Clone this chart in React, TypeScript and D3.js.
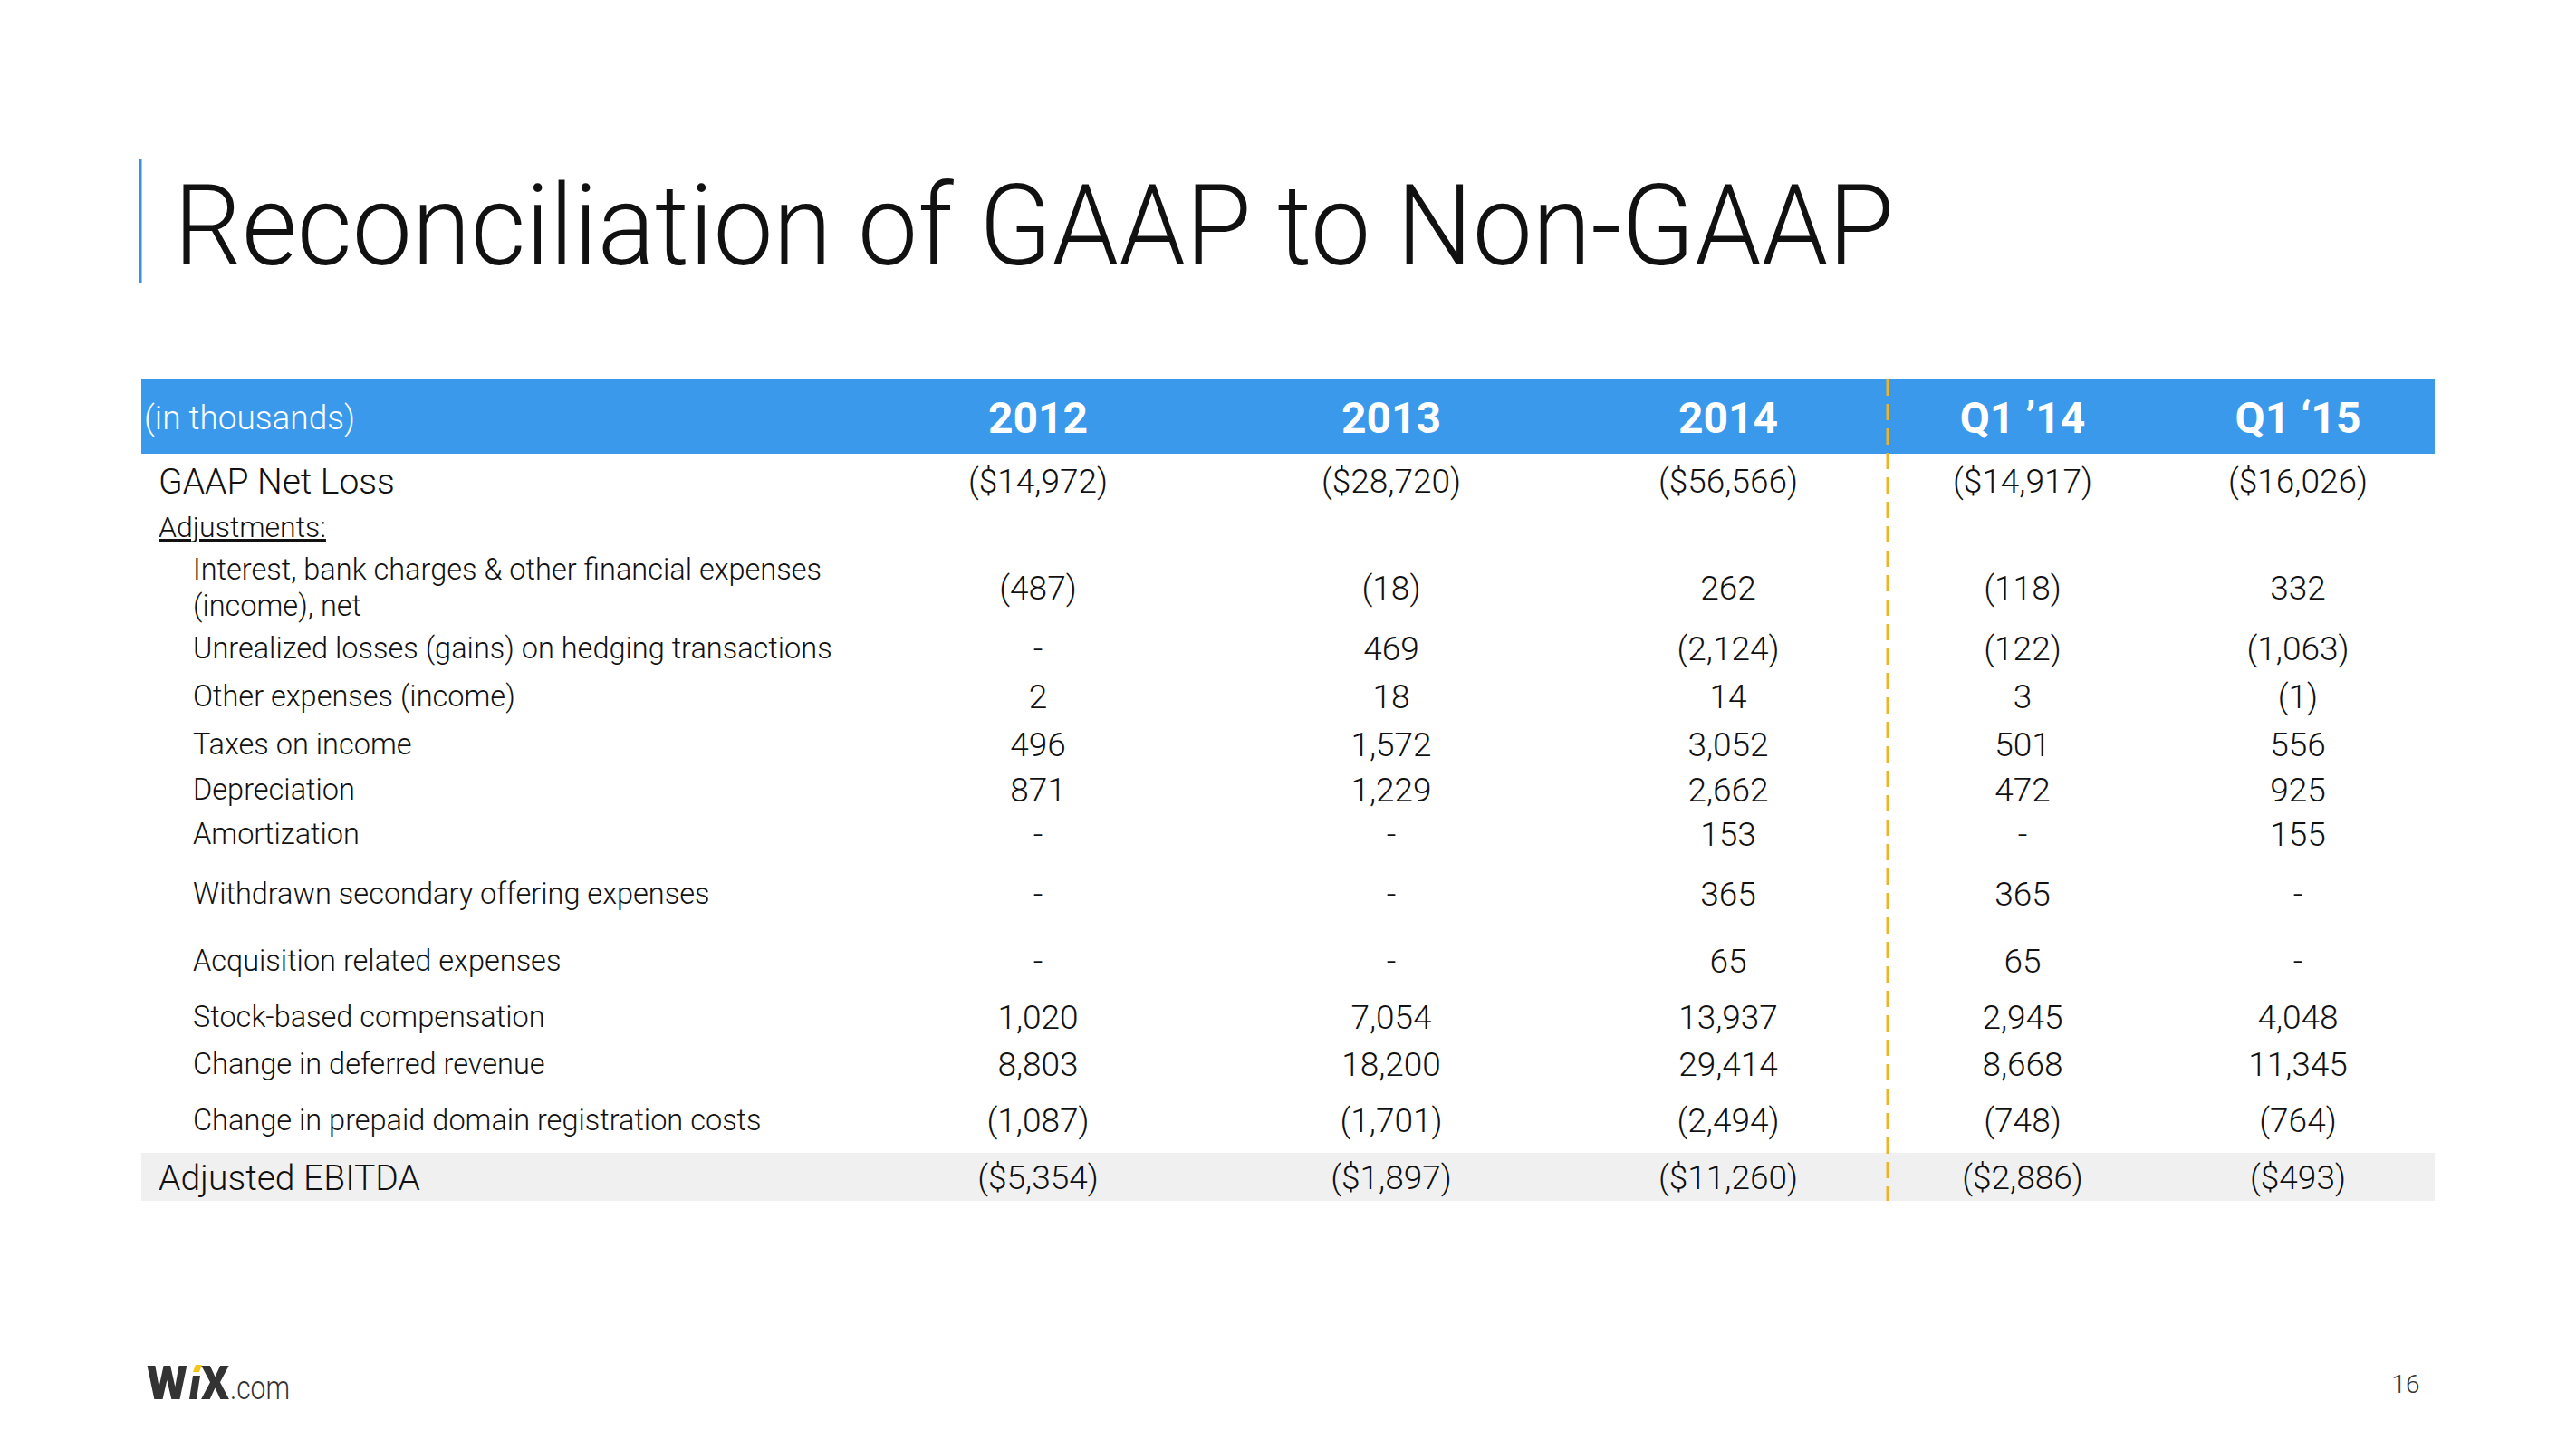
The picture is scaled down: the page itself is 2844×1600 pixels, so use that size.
import React from "react";
import * as d3 from "d3";

const columns = ["2012", "2013", "2014", "Q1 ’14", "Q1 ‘15"];
const columnCenters = [1146, 1536, 1908, 2233, 2537];

const gaapNetLoss = [-14972, -28720, -56566, -14917, -16026];
const interest = [-487, -18, 262, -118, 332];
const unrealized = [null, 469, -2124, -122, -1063];
const otherExpenses = [2, 18, 14, 3, -1];
const taxes = [496, 1572, 3052, 501, 556];
const depreciation = [871, 1229, 2662, 472, 925];
const amortization = [null, null, 153, null, 155];
const withdrawn = [null, null, 365, 365, null];
const acquisition = [null, null, 65, 65, null];
const stockComp = [1020, 7054, 13937, 2945, 4048];
const deferredRevenue = [8803, 18200, 29414, 8668, 11345];
const prepaidDomain = [-1087, -1701, -2494, -748, -764];
const adjustedEbitda = [-5354, -1897, -11260, -2886, -493];

type Row = { key: string; label: string[]; values: (number | null)[]; kind: "main" | "sub"; dollar: boolean };

const rows: Row[] = [
  { key: "gaap", label: ["GAAP Net Loss"], values: gaapNetLoss, kind: "main", dollar: true },
  { key: "interest", label: ["Interest, bank charges & other financial expenses", "(income), net"], values: interest, kind: "sub", dollar: false },
  { key: "unrealized", label: ["Unrealized losses (gains) on hedging transactions"], values: unrealized, kind: "sub", dollar: false },
  { key: "other", label: ["Other expenses (income)"], values: otherExpenses, kind: "sub", dollar: false },
  { key: "taxes", label: ["Taxes on income"], values: taxes, kind: "sub", dollar: false },
  { key: "dep", label: ["Depreciation"], values: depreciation, kind: "sub", dollar: false },
  { key: "amort", label: ["Amortization"], values: amortization, kind: "sub", dollar: false },
  { key: "withdrawn", label: ["Withdrawn secondary offering expenses"], values: withdrawn, kind: "sub", dollar: false },
  { key: "acq", label: ["Acquisition related expenses"], values: acquisition, kind: "sub", dollar: false },
  { key: "sbc", label: ["Stock-based compensation"], values: stockComp, kind: "sub", dollar: false },
  { key: "deferred", label: ["Change in deferred revenue"], values: deferredRevenue, kind: "sub", dollar: false },
  { key: "prepaid", label: ["Change in prepaid domain registration costs"], values: prepaidDomain, kind: "sub", dollar: false },
  { key: "ebitda", label: ["Adjusted EBITDA"], values: adjustedEbitda, kind: "main", dollar: true },
];
const rowCenters = [531, 649, 716, 769, 822, 872, 921, 987, 1061, 1123, 1175, 1237, 1300];

const FONT = "'Helvetica Neue', Roboto, 'Liberation Sans', sans-serif";
const BLUE = "#3a99ea";
const GOLD = "#f0b323";

const fmt = d3.format(",");
function formatValue(v: number | null, dollar: boolean) {
  if (v === null) return "-";
  const s = (dollar ? "$" : "") + fmt(Math.abs(v));
  return v < 0 ? `(${s})` : s;
}

export default function App() {
  const x = d3.scaleOrdinal<string, number>().domain(columns).range(columnCenters);
  const y = d3.scaleOrdinal<string, number>().domain(rows.map((r) => r.key)).range(rowCenters);

  const tableLeft = 156;
  const tableRight = 2688;
  const headerTop = 419;
  const headerBottom = 501;
  const valueSize = 37;
  const mainSize = 39;
  const subSize = 32.5;

  return (
    <svg width={2844} height={1600} style={{ position: "absolute", left: 0, top: 0, background: "#fff" }} fontFamily={FONT}>
      <rect x={0} y={0} width={2844} height={1600} fill="#fff" />
      {/* title */}
      <line x1={155} x2={155} y1={176} y2={312} stroke="#3a8fe0" strokeWidth={3} />
      <text x={192} y={292} fontSize={124} fontWeight={300} fill="#111" textLength={1899} lengthAdjust="spacingAndGlyphs">
        Reconciliation of GAAP to Non-GAAP
      </text>

      {/* header band */}
      <rect x={tableLeft} y={headerTop} width={tableRight - tableLeft} height={headerBottom - headerTop} fill={BLUE} />
      <text x={159} y={461 + 13} fontSize={37} fontWeight={300} fill="#fff">(in thousands)</text>
      {columns.map((c) => (
        <text key={c} x={x(c)} y={461 + 17} fontSize={48} fontWeight={700} fill="#fff" textAnchor="middle">
          {c}
        </text>
      ))}

      {/* EBITDA band */}
      <rect x={tableLeft} y={1273} width={tableRight - tableLeft} height={53} fill="#f0f0f0" />

      {/* Adjustments label */}
      <text x={175} y={582 + 11} fontSize={32} fontWeight={300} fill="#111" textDecoration="underline">Adjustments:</text>

      {rows.map((r) => {
        const cy = y(r.key);
        const isMain = r.kind === "main";
        const lx = isMain ? 175 : 213;
        const ls = isMain ? mainSize : subSize;
        return (
          <g key={r.key}>
            {r.label.map((t, i) => {
              const n = r.label.length;
              const ly = cy + (i - (n - 1) / 2) * 40 + ls * 0.35;
              return (
                <text key={i} x={lx} y={ly} fontSize={ls} fontWeight={300} fill="#111">
                  {t}
                </text>
              );
            })}
            {r.values.map((v, j) => (
              <text key={j} x={x(columns[j])} y={cy + valueSize * 0.36} fontSize={valueSize} fontWeight={300} fill="#111" textAnchor="middle">
                {formatValue(v, r.dollar)}
              </text>
            ))}
          </g>
        );
      })}

      {/* dashed separator */}
      <line x1={2084} x2={2084} y1={headerTop} y2={1326} stroke={GOLD} strokeWidth={3} strokeDasharray="18 9" />

      {/* logo */}
      <text x={162} y={1545} fontSize={52} fontWeight={900} fill="#333" textLength={45} lengthAdjust="spacingAndGlyphs">W</text>
      <polygon points="209,1545 217,1545 221,1519 213,1519" fill="#333" />
      <polygon points="213,1515 220,1515 223,1507 216,1507" fill="#f5c518" />
      <text x={222} y={1545} fontSize={52} fontWeight={900} fill="#333" textLength={31} lengthAdjust="spacingAndGlyphs">X</text>
      <text x={254} y={1545} fontSize={36} fontWeight={300} fill="#333" textLength={66} lengthAdjust="spacingAndGlyphs">.com</text>

      {/* page number */}
      <text x={2656} y={1538} fontSize={28} fontWeight={300} fill="#333" textAnchor="middle">16</text>
    </svg>
  );
}
